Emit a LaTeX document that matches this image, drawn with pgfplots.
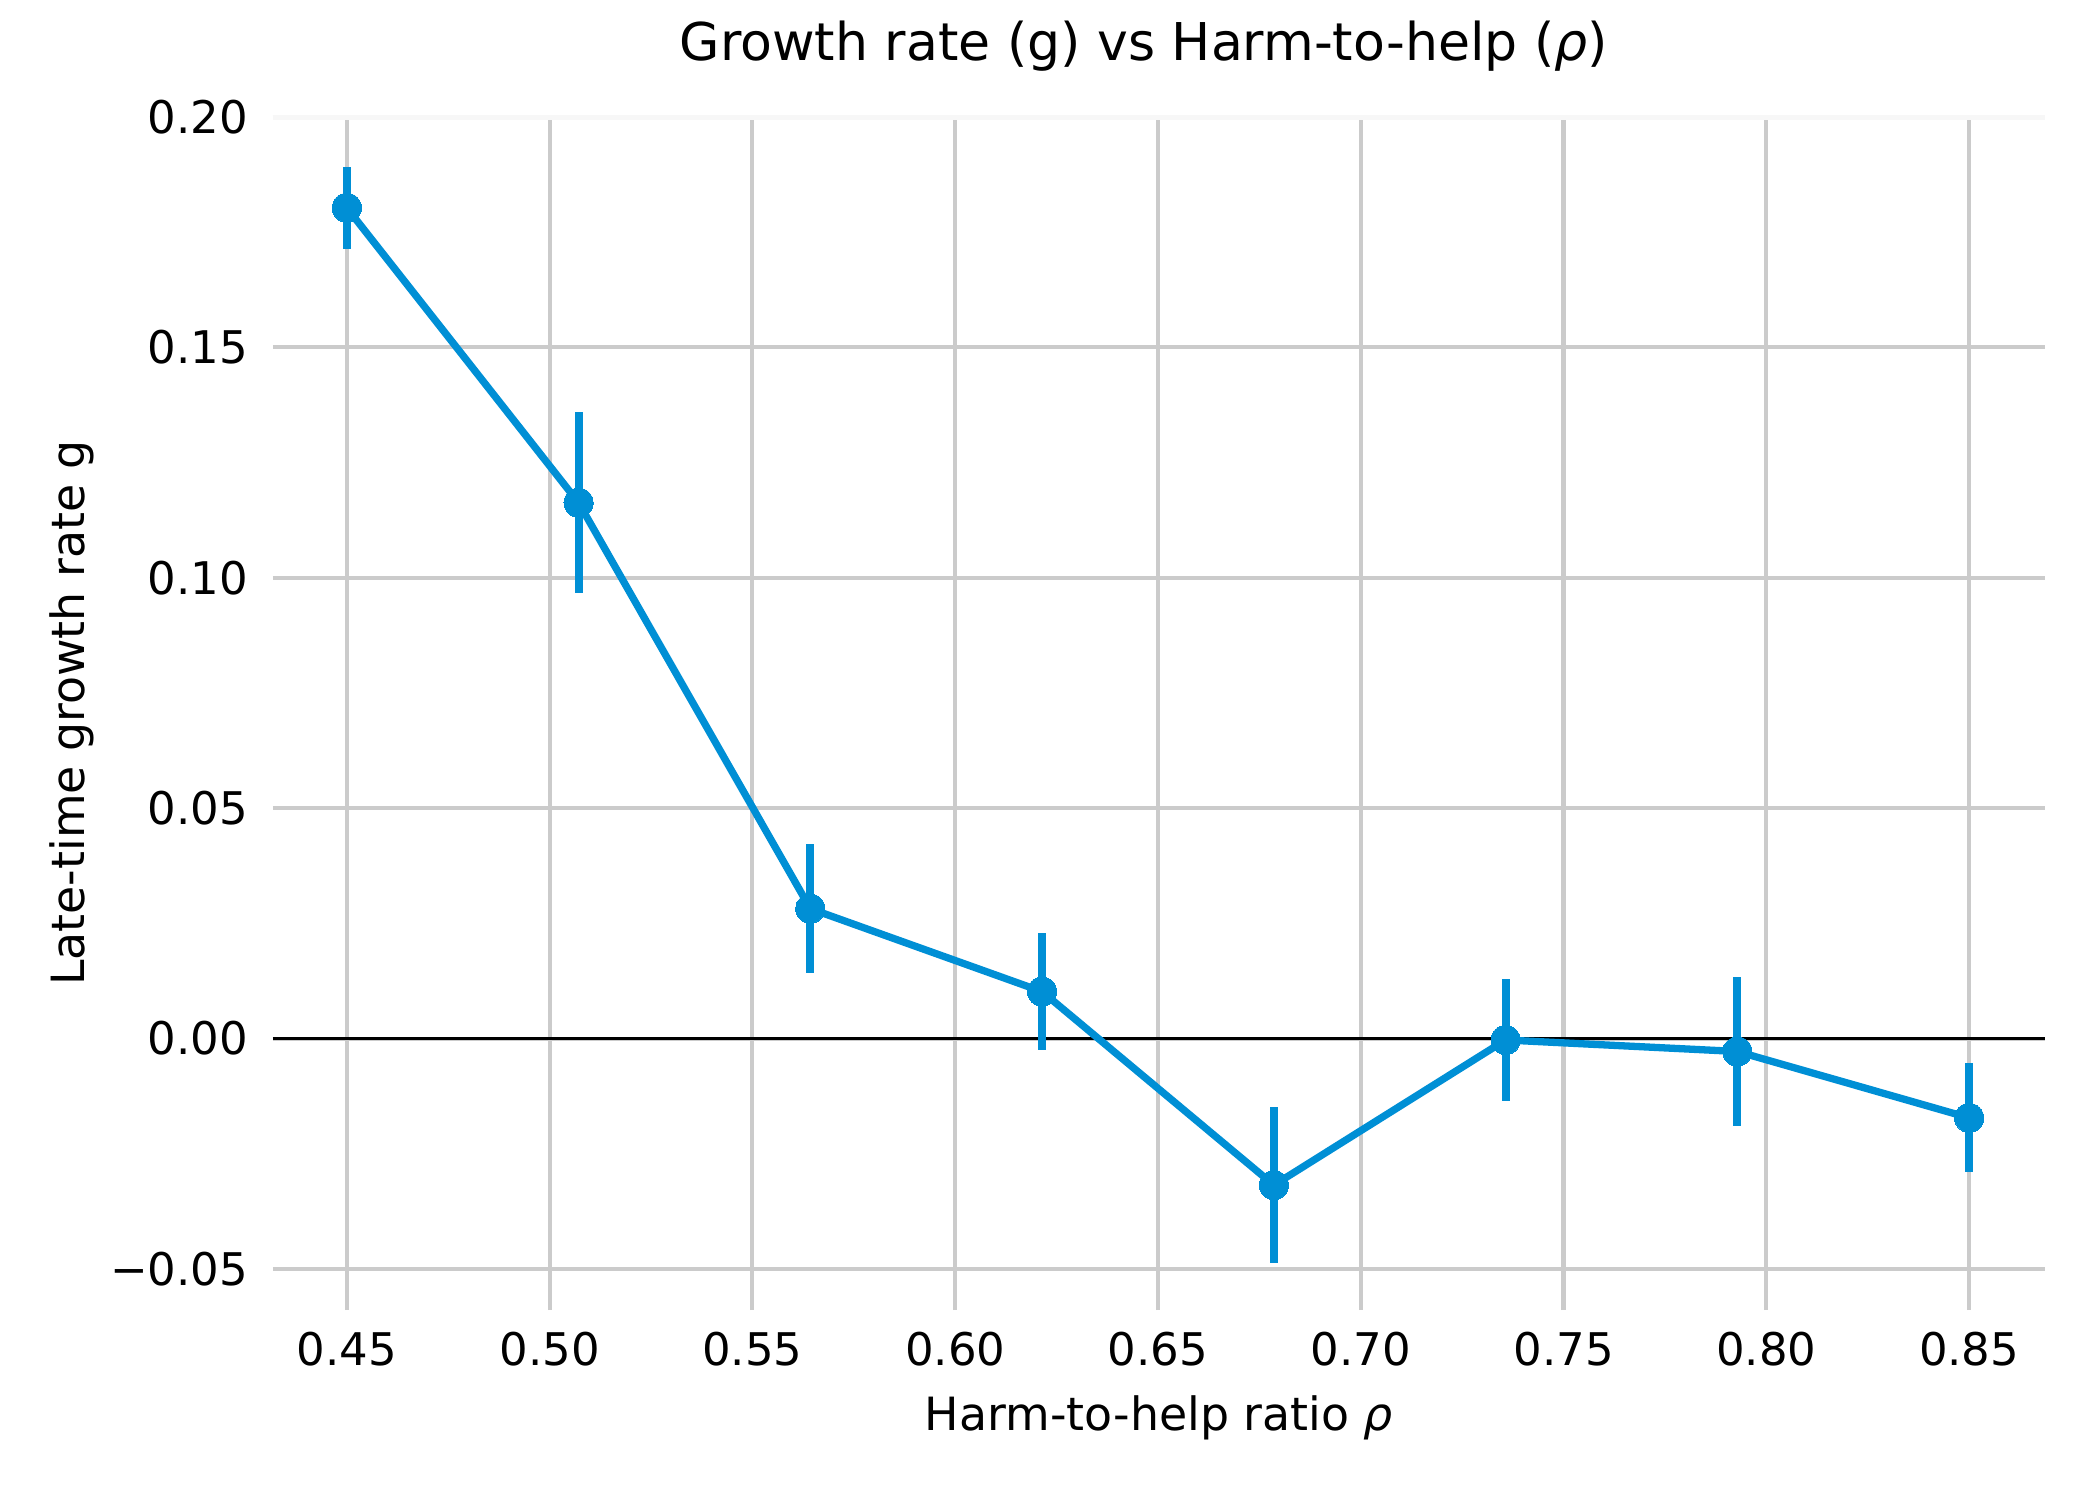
\documentclass[border=0pt]{standalone}
\usepackage{fontspec}
\setmainfont{DejaVu Sans}
\usepackage{pgfplots}
\pgfplotsset{compat=1.18}
\definecolor{c538}{HTML}{008FD5}
\definecolor{gridc}{HTML}{CBCBCB}
\definecolor{spinec}{HTML}{F7F7F7}
\begin{document}
\begin{tikzpicture}
\path[use as bounding box] (0,0) rectangle (504pt,360pt);
\begin{axis}[
  at={(65.52pt,45.6pt)}, anchor=south west,
  scale only axis, width=425.28pt, height=286.32pt,
  xmin=0.4318, xmax=0.8687, ymin=-0.0589, ymax=0.2,
  axis line style={draw=none},
  tick style={draw=none},
  grid=major,
  major grid style={color=gridc, line width=1pt},
  xtick={0.45,0.50,0.55,0.60,0.65,0.70,0.75,0.80,0.85},
  xticklabels={0.45,0.50,0.55,0.60,0.65,0.70,0.75,0.80,0.85},
  ytick={-0.05,0,0.05,0.10,0.15,0.20},
  yticklabels={−0.05,0.00,0.05,0.10,0.15,0.20},
  xticklabel style={font=\fontsize{10.8}{13}\selectfont, anchor=base, yshift=-13.2pt, inner sep=0pt},
  yticklabel style={font=\fontsize{10.8}{13}\selectfont, anchor=east, xshift=-5.76pt, inner sep=0pt},
  clip=false,
]
\addplot[black, line width=0.9pt, forget plot] coordinates {(0.4318,0) (0.8687,0)};
\addplot[color=c538, line width=1.75pt, mark=*, mark size=3.5pt,
  mark options={solid, fill=c538, line width=0pt},
  error bars/.cd, y dir=both, y explicit, error mark=none,
  error bar style={line width=1.9pt, color=c538}]
coordinates {
  (0.45,0.1803) +- (0,0.0089)
  (0.507143,0.1163) +- (0,0.0196)
  (0.564286,0.0282) +- (0,0.0140)
  (0.621429,0.0102) +- (0,0.0127)
  (0.678571,-0.0318) +- (0,0.0170)
  (0.735714,-0.0003) +- (0,0.0133)
  (0.792857,-0.0028) +- (0,0.0161)
  (0.85,-0.0172) +- (0,0.0118)
};
\draw[spinec, line width=1.2pt] (rel axis cs:0,1) -- (rel axis cs:1,1);
\end{axis}
\node[anchor=base, inner sep=0pt, font=\fontsize{12.5}{15}\selectfont] at (274.5pt,345.6pt) {Growth rate (g) vs Harm-to-help (\textit{ρ})};
\node[anchor=base, inner sep=0pt, font=\fontsize{11}{13}\selectfont] at (278.16pt,16.6pt) {Harm-to-help ratio \textit{ρ}};
\node[rotate=90, anchor=base, inner sep=0pt, font=\fontsize{11}{13}\selectfont] at (20.2pt,188.8pt) {Late-time growth rate g};
\end{tikzpicture}
\end{document}
